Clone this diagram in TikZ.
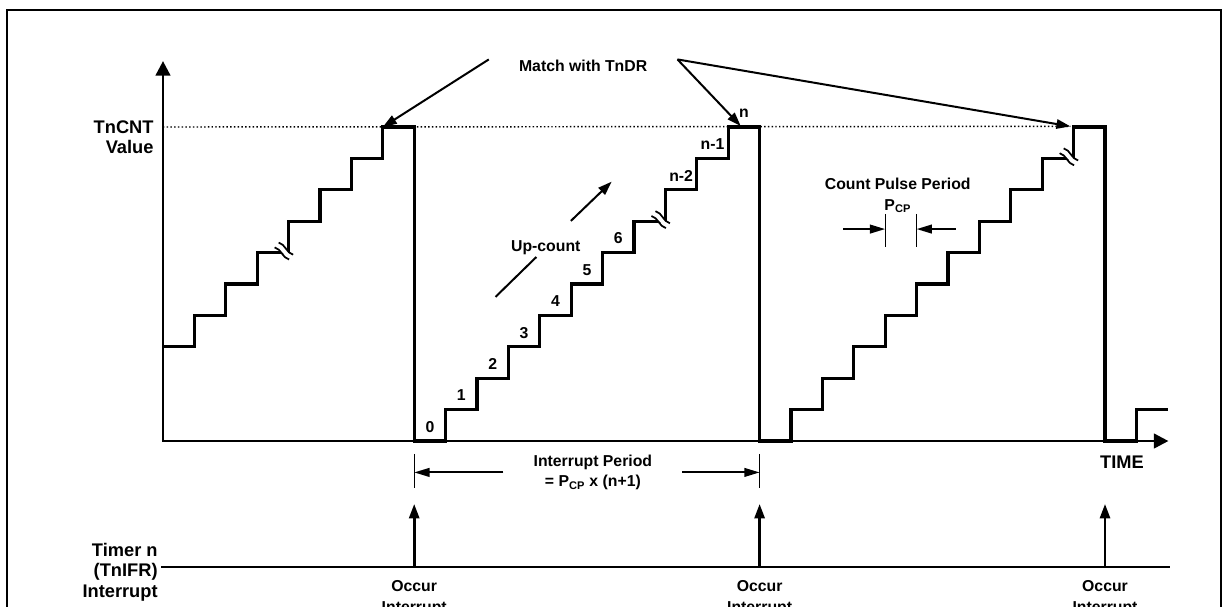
\documentclass[tikz,border=0pt]{standalone}
\usepackage{fontspec}
\setmainfont{Liberation Sans}
\usetikzlibrary{positioning, arrows.meta}

\begin{document}
\begin{tikzpicture}[x=23.55pt, y=23.55pt,
  txt/.style={font=\fontsize{11.85}{15.4}\selectfont\bfseries, inner sep=1pt},
  bigtxt/.style={font=\fontsize{13.7}{15.4}\selectfont\bfseries, inner sep=1pt},
  stairs/.style={line width=2.4pt},
  axis/.style={line width=2pt, {Triangle[length=11pt, width=11pt]}-{Triangle[length=11pt, width=11pt]}},
  pointer/.style={line width=1.5pt, -{Triangle[length=10.5pt, width=7pt]}},
  dimarrow/.style={line width=1.5pt, -{Triangle[length=11.5pt, width=6.5pt]}},
  irq/.style={line width=2.2pt, -{Triangle[length=11pt, width=7.5pt]}},
  dimtick/.style={line width=0.9pt},
  brk/.pic={
    \begin{scope}[rotate=-40]
      \fill[white] (-0.36,-0.07) rectangle (0.36,0.07);
      \draw[line width=1.3pt] (-0.3,0.1) .. controls (-0.1,0.2) and (0.1,0) .. (0.3,0.1);
      \draw[line width=1.3pt] (-0.3,-0.1) .. controls (-0.1,0) and (0.1,-0.2) .. (0.3,-0.1);
    \end{scope}}]

  \useasboundingbox (-5.191,-5.255) rectangle (33.758,14.045);
  \clip (-5.191,-5.255) rectangle (33.758,14.045);
  \draw[line width=1.1pt] (-4.968,-6) rectangle (33.694,13.726);

  % count value reaching TnDR
  \coordinate (top1) at (7,10);
  \coordinate (top2) at (18.4,10.03);
  \coordinate (top3) at (28.9,10.02);
  \draw[line width=1.1pt, dash pattern=on 1.1pt off 1.7pt] (0,10) -- (top3);

  % axes
  \draw[axis] (0,12.1) -- (0,0) -- (32.02,0);
  \node[bigtxt, anchor=east, align=right] (tncnt) at (-0.25,9.67) {TnCNT\\Value};
  \node[bigtxt] (time) at (30.54,-0.67) {TIME};

  % counter staircase
  \draw[stairs] (0,3) foreach \s in {1,...,7} { -| (\s,\s+3) } -| (8,0)
    foreach \s in {9,...,18} { -| (\s,\s-8) } -| (19,0)
    foreach \s in {20,...,29} { -| (\s,\s-19) } -| (30,0) -| (31,1) -- (32,1);
  \pic at (3.85,6.05) {brk};
  \pic at (15.85,7.05) {brk};
  \pic at (28.85,9.05) {brk};

  \foreach \s/\t in {8/0, 9/1, 10/2, 11/3, 12/4, 13/5, 14/6, 16/n-2, 17/n-1, 18/n}
    \node[txt] (val\s) at (\s+0.5,\s-7.55) {\t};

  % match with TnDR
  \node[txt, inner xsep=22.5pt] (match) at (13.38,11.94) {Match with TnDR};
  \draw[pointer] ([yshift=5pt]match.west) -- (top1);
  \draw[pointer] ([yshift=5pt]match.east) -- (top2);
  \draw[pointer] ([yshift=5pt]match.east) -- (top3);

  % up-count
  \node[txt] (upc) at (12.19,6.17) {Up-count};
  \coordinate (uplo) at (10.59,4.59);
  \coordinate (uphi) at (14.29,8.26);
  \draw[line width=1.5pt] (uplo) -- ([shift={(-0.3,-0.31)}]upc.center);
  \draw[pointer] ([shift={(0.8,0.84)}]upc.center) -- (uphi);

  % count pulse period
  \node[txt, align=center] (cpp) at (23.4,7.82) {Count Pulse Period\\P\textsubscript{CP}};
  \coordinate (pcpL) at (23,6.75);
  \coordinate (pcpR) at (24,6.75);
  \coordinate (pcpL0) at (21.66,6.75);
  \coordinate (pcpR0) at (25.25,6.75);
  \foreach \c in {pcpL,pcpR}
    \draw[dimtick] ([yshift=11.3pt]\c) -- ([yshift=-13.5pt]\c);
  \draw[dimarrow] (pcpL0) -- (pcpL);
  \draw[dimarrow] (pcpR0) -- (pcpR);

  % interrupt period
  \node[txt, align=center, inner xsep=22.5pt] (iper) at (13.69,-1.0) {Interrupt Period\\= P\textsubscript{CP} x (n+1)};
  \coordinate (ipL) at (8,-0.98);
  \coordinate (ipR) at (19,-0.98);
  \foreach \c in {ipL,ipR}
    \draw[dimtick] ([yshift=13.5pt]\c) -- ([yshift=-12.5pt]\c);
  \draw[dimarrow] (iper.west) -- (iper.west -| ipL);
  \draw[dimarrow] (iper.east) -- (iper.east -| ipR);

  % interrupt flag line
  \node[bigtxt, anchor=east, align=right] (tmr) at (-0.12,-4.18) {Timer n\\(TnIFR)\\Interrupt};
  \coordinate (tl0) at (-0.06,-4);
  \coordinate (tl1) at (32.07,-4);
  \draw[line width=1.4pt] (tl0) -- (tl1);
  \foreach \x in {8,19,30} {
    \coordinate (irq\x) at (\x,-4);
    \coordinate (irqtip\x) at (\x,-2);
    \draw[irq] (irq\x) -- (irqtip\x);
    \node[txt, align=center] (occ\x) at (\x,-5.0) {Occur\\Interrupt};
  }
\end{tikzpicture}
\end{document}
